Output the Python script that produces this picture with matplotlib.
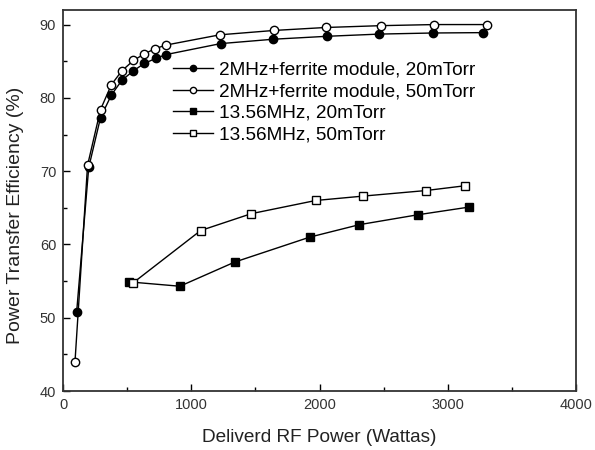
import matplotlib
matplotlib.use('Agg')
import matplotlib.pyplot as plt
from matplotlib.ticker import MultipleLocator

plt.rcParams['font.family'] = ['Liberation Sans', 'DejaVu Sans']

# Datos
x_2m_20 = [106, 200, 292, 377, 459, 549, 634, 725, 802, 1228, 1640, 2060, 2466, 2886, 3278]
y_2m_20 = [50.8, 70.5, 77.3, 80.4, 82.4, 83.7, 84.7, 85.4, 85.9, 87.4, 88.0, 88.4, 88.7, 88.85, 88.9]

x_2m_50 = [93, 191, 292, 377, 459, 549, 634, 717, 802, 1222, 1648, 2048, 2478, 2896, 3309]
y_2m_50 = [44.0, 70.8, 78.4, 81.8, 83.7, 85.1, 86.0, 86.7, 87.2, 88.6, 89.2, 89.6, 89.85, 90.0, 90.0]

x_13_20 = [511, 911, 1339, 1924, 2311, 2767, 3167]
y_13_20 = [54.9, 54.3, 57.6, 61.0, 62.7, 64.05, 65.1]

x_13_50 = [549, 1073, 1468, 1971, 2342, 2827, 3131]
y_13_50 = [54.8, 61.9, 64.2, 66.0, 66.6, 67.35, 68.0]

etiquetas = ['2MHz+ferrite module, 20mTorr', '2MHz+ferrite module, 50mTorr',
             '13.56MHz, 20mTorr', '13.56MHz, 50mTorr']

fig = plt.figure(figsize=(5.95, 4.5), dpi=100)
ax = fig.add_axes([0.106, 0.131, 0.862, 0.847])

ax.plot(x_2m_20, y_2m_20, '-o', color='black', lw=1, ms=6, mfc='black', mec='black', label=etiquetas[0])
ax.plot(x_2m_50, y_2m_50, '-o', color='black', lw=1, ms=6, mfc='white', mec='black', label=etiquetas[1])
ax.plot(x_13_20, y_13_20, '-s', color='black', lw=1, ms=5.5, mfc='black', mec='black', label=etiquetas[2])
ax.plot(x_13_50, y_13_50, '-s', color='black', lw=1, ms=5.5, mfc='white', mec='black', label=etiquetas[3])

ax.set_xlim(0, 4000)
ax.set_ylim(40, 92)
ax.xaxis.set_major_locator(MultipleLocator(1000))
ax.xaxis.set_minor_locator(MultipleLocator(500))
ax.yaxis.set_major_locator(MultipleLocator(10))
ax.yaxis.set_minor_locator(MultipleLocator(5))
ax.tick_params(which='both', direction='in', top=False, right=False, labelsize=10.5,
               width=1, labelcolor='#333333')
ax.tick_params(which='major', length=5, pad=5)
ax.tick_params(which='minor', length=3)
for s in ax.spines.values():
    s.set_linewidth(1.3)
    s.set_color('#333333')

ax.set_xlabel('Deliverd RF Power (Wattas)', fontsize=13.7, labelpad=12, color='#222222')
ax.set_ylabel('Power Transfer Efficiency (%)', fontsize=14, color='#222222')
ax.yaxis.set_label_coords(-0.077, 0.46)

ax.legend(loc='upper left', bbox_to_anchor=(0.2, 0.885), frameon=False, fontsize=13.7,
          handlelength=2.1, handletextpad=0.3, labelspacing=0.22, borderaxespad=0,
          markerscale=0.75)

fig.savefig('out.png', dpi=100)
